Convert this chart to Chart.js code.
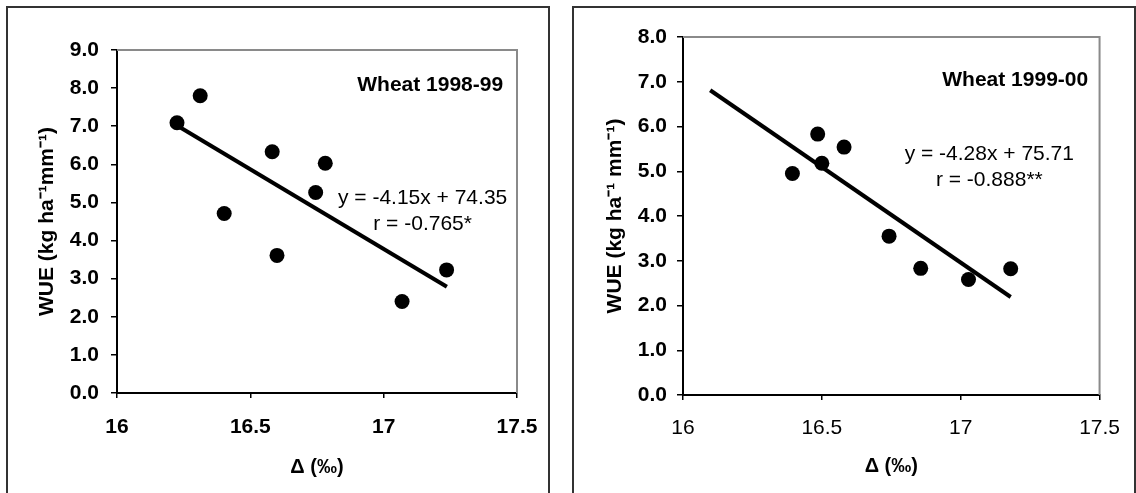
<!DOCTYPE html>
<html><head><meta charset="utf-8">
<script src="https://cdn.jsdelivr.net/npm/chart.js@4.4.1/dist/chart.umd.min.js"></script>
<style>
html,body{margin:0;padding:0;background:#fff;overflow:hidden;width:1136px;height:493px}
.panel{position:absolute;border:2px solid #333;box-sizing:border-box}
canvas{position:absolute;top:0}
</style></head><body>
<div class="panel" style="left:6px;top:6px;width:544px;height:600px"></div>
<div class="panel" style="left:572px;top:6px;width:564px;height:600px"></div>
<canvas id="c1" width="560" height="493" style="left:0px"></canvas>
<canvas id="c2" width="566" height="493" style="left:570px"></canvas>
<script>
// ---- data ----
const xTicks = [16, 16.5, 17, 17.5];
const yTicksLeft = [0, 1, 2, 3, 4, 5, 6, 7, 8, 9];
const yTicksRight = [0, 1, 2, 3, 4, 5, 6, 7, 8];

const deltaLeft = [16.225, 16.312, 16.402, 16.582, 16.600, 16.745, 16.781, 17.069, 17.236];
const wueLeft   = [7.09, 7.80, 4.71, 6.33, 3.61, 5.26, 6.03, 2.40, 3.23];
const fitXLeft  = [16.225, 17.237];
const fitYLeft  = [7.02, 2.79];

const deltaRight = [16.394, 16.485, 16.500, 16.580, 16.742, 16.856, 17.028, 17.180];
const wueRight   = [4.95, 5.83, 5.18, 5.54, 3.55, 2.83, 2.58, 2.82];
const fitXRight  = [16.098, 17.180];
const fitYRight  = [6.81, 2.19];

const titleLeft = 'Wheat 1998-99';
const eqLeft = 'y = -4.15x + 74.35';
const rLeft = 'r = -0.765*';
const titleRight = 'Wheat 1999-00';
const eqRight = 'y = -4.28x + 75.71';
const rRight = 'r = -0.888**';

const yTitleLeft = 'WUE (kg ha\u207B\u00B9mm\u207B\u00B9)';
const yTitleRight = 'WUE (kg ha\u207B\u00B9 mm\u207B\u00B9)';
const xTitle = '\u0394 (\u2030)';

// ---- rendering ----
const FF = 'Arial, "Liberation Sans", Helvetica, sans-serif';

const framePlugin = {
  id: 'frame',
  beforeDatasetsDraw(chart) {
    const {ctx, chartArea: a} = chart;
    ctx.save();
    ctx.strokeStyle = '#8a8a8a';
    ctx.lineWidth = 2;
    ctx.beginPath();
    ctx.moveTo(a.left, a.top);
    ctx.lineTo(a.right, a.top);
    ctx.lineTo(a.right, a.bottom);
    ctx.stroke();
    ctx.restore();
  }
};

const notesPlugin = {
  id: 'notes',
  afterDatasetsDraw(chart, args, opts) {
    const ctx = chart.ctx, xs = chart.scales.x, ys = chart.scales.y;
    ctx.save();
    ctx.fillStyle = '#000';
    ctx.textBaseline = 'middle';
    for (const n of opts.items) {
      ctx.font = n.font;
      ctx.textAlign = n.align;
      ctx.fillText(n.text, xs.getPixelForValue(n.x), ys.getPixelForValue(n.y));
    }
    ctx.restore();
  }
};

function zip(xs, ys) { return xs.map((x, i) => ({x: x, y: ys[i]})); }

function makeChart(id, g) {
  return new Chart(document.getElementById(id), {
    type: 'scatter',
    data: {
      datasets: [
        {data: zip(g.px, g.py), pointRadius: 7.5, pointHoverRadius: 7.5,
         backgroundColor: '#000', borderWidth: 0, showLine: false},
        {data: zip(g.lx, g.ly), showLine: true, pointRadius: 0, pointHoverRadius: 0,
         borderColor: '#000', borderWidth: 4, borderCapStyle: 'butt', fill: false}
      ]
    },
    options: {
      responsive: false,
      animation: false,
      events: [],
      layout: {padding: {left: 0, top: g.padTop, right: g.padRight, bottom: 0}},
      plugins: {
        legend: {display: false},
        tooltip: {enabled: false},
        notes: {items: g.notes}
      },
      scales: {
        x: {
          type: 'linear', min: xTicks[0], max: xTicks[xTicks.length - 1],
          afterBuildTicks: s => { s.ticks = xTicks.map(v => ({value: v})); },
          afterFit: s => { s.height = g.xH; },
          grid: {display: true, drawOnChartArea: false, drawTicks: true, tickLength: 5, color: '#000', lineWidth: 1.5},
          border: {display: true, color: '#000', width: 2},
          ticks: {color: '#000', padding: g.xTickPad, maxRotation: 0, autoSkip: false,
                  font: {family: FF, size: 21, weight: g.xBold ? 'bold' : 'normal'},
                  callback: v => String(v)},
          title: {display: true, text: xTitle, color: '#000',
                  font: {family: FF, size: 20, weight: 'bold', lineHeight: 1.2},
                  padding: {top: 0, bottom: g.xTitlePad}}
        },
        y: {
          type: 'linear', min: g.yt[0], max: g.yt[g.yt.length - 1],
          afterBuildTicks: s => { s.ticks = g.yt.map(v => ({value: v})); },
          afterFit: s => { s.width = g.yW; },
          grid: {display: true, drawOnChartArea: false, drawTicks: true, tickLength: 6, color: '#000', lineWidth: 1.5},
          border: {display: true, color: '#000', width: 2},
          ticks: {color: '#000', padding: g.yTickPad, autoSkip: false,
                  font: {family: FF, size: 21, weight: 'bold'},
                  callback: v => Number(v).toFixed(1)},
          title: {display: true, text: g.yTitle, color: '#000',
                  font: {family: FF, size: 21, weight: 'bold', lineHeight: 1.2},
                  padding: {top: g.yTitlePad, bottom: 0}}
        }
      }
    },
    plugins: [framePlugin, notesPlugin]
  });
}

makeChart('c1', {
  px: deltaLeft, py: wueLeft, lx: fitXLeft, ly: fitYLeft, yt: yTicksLeft,
  padTop: 50, padRight: 43, xH: 100, yW: 117,
  xTickPad: 17, yTickPad: 12, xTitlePad: 14, yTitlePad: 35, xBold: true,
  yTitle: yTitleLeft,
  notes: [
    {text: titleLeft, x: 17.448, y: 8.07, align: 'right', font: 'bold 21px ' + FF},
    {text: eqLeft, x: 17.146, y: 5.12, align: 'center', font: '21px ' + FF},
    {text: rLeft, x: 17.146, y: 4.44, align: 'center', font: '21px ' + FF}
  ]
});

makeChart('c2', {
  px: deltaRight, py: wueRight, lx: fitXRight, ly: fitYRight, yt: yTicksRight,
  padTop: 37, padRight: 27, xH: 98, yW: 113,
  xTickPad: 16, yTickPad: 10, xTitlePad: 15, yTitlePad: 33, xBold: false,
  yTitle: yTitleRight,
  notes: [
    {text: titleRight, x: 17.459, y: 7.04, align: 'right', font: 'bold 21px ' + FF},
    {text: eqRight, x: 17.103, y: 5.39, align: 'center', font: '21px ' + FF},
    {text: rRight, x: 17.103, y: 4.81, align: 'center', font: '21px ' + FF}
  ]
});
</script>
</body></html>
